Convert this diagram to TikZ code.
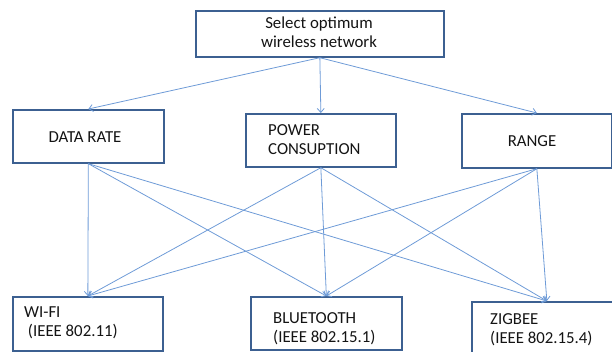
\documentclass[tikz,border=0pt]{standalone}
\usepackage{fontspec}
\setmainfont{Carlito}
\usetikzlibrary{arrows.meta}
\definecolor{boxline}{RGB}{60,96,145}
\definecolor{conn}{RGB}{110,155,215}
\definecolor{txt}{RGB}{20,20,20}
\begin{document}
\begin{tikzpicture}[x=1pt,y=-1pt,
  box/.style={draw=boxline,line width=1.7pt,inner sep=0pt,anchor=north west},
  lbl/.style={text=txt,font=\fontsize{16.8}{19}\selectfont,inner sep=0pt},
  conn/.style={draw=conn,line width=0.8pt,-{Straight Barb[length=4pt,width=7pt]}}]
\useasboundingbox (0,0) rectangle (612,351);
\clip (0,0) rectangle (612,351);
% boxes
\node[box,minimum width=248pt,minimum height=46pt] (top) at (195,10) {};
\node[box,minimum width=151pt,minimum height=53pt] (dr) at (12,109) {};
\node[box,minimum width=150pt,minimum height=53pt] (pc) at (245,113) {};
\node[box,minimum width=150pt,minimum height=54pt] (rg) at (461,113) {};
\node[box,minimum width=150pt,minimum height=54pt] (wf) at (12,296) {};
\node[box,minimum width=151pt,minimum height=53pt] (bt) at (250,296) {};
\node[box,minimum width=150pt,minimum height=60pt] (zb) at (471,301) {};
% labels
\node[lbl,align=center] (topT) at (319,32) {Select optimum\\wireless network};
\node[lbl] (drT) at (85,137) {DATA RATE};
\node[lbl,align=left,anchor=west] (pcT) at (268,140) {POWER\\CONSUPTION};
\node[lbl] (rgT) at (532,141) {RANGE};
\node[lbl,align=left,anchor=west] (wfT) at (24,323) {WI-FI\\\ (IEEE 802.11)};
\node[lbl,align=left,anchor=west] (btT) at (273,329) {BLUETOOTH\\(IEEE 802.15.1)};
\node[lbl,align=left,anchor=west] (zbT) at (490,329.5) {ZIGBEE\\(IEEE 802.15.4)};
% connectors
\foreach \t in {dr,pc,rg}{\draw[conn] (top.south) -- (\t.north);}
\foreach \s in {dr,pc,rg}{\foreach \t in {wf,bt,zb}{\draw[conn] (\s.south) -- (\t.north);}}
\end{tikzpicture}
\end{document}
